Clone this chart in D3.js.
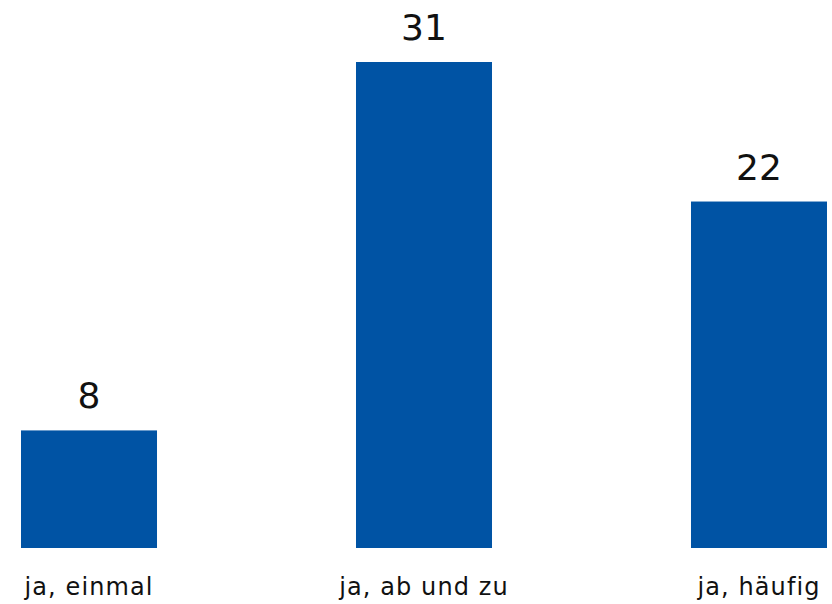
<!DOCTYPE html>
<html>
<head>
<meta charset="utf-8">
<script src="https://d3js.org/d3.v7.min.js"></script>
<style>
  body { margin: 0; background: #fff; }
  text { font-family: "DejaVu Sans", Verdana, sans-serif; }
</style>
</head>
<body>
<script>
// chart data
var categories = ["ja, einmal", "ja, ab und zu", "ja, häufig"];
var values = [7.5, 31, 22.1];

var width = 832, height = 604;

var svg = d3.select("body").append("svg")
  .attr("width", width)
  .attr("height", height);

var x = d3.scaleBand()
  .domain(categories)
  .range([21, 827])
  .paddingInner(0.594)
  .paddingOuter(0);

var y = d3.scaleLinear()
  .domain([0, 31])
  .range([548, 62]);

var rows = categories.map(function(c, i) { return { name: c, value: values[i] }; });

svg.selectAll("rect.bar")
  .data(rows)
  .enter().append("rect")
  .attr("class", "bar")
  .attr("x", function(d) { return x(d.name); })
  .attr("y", function(d) { return y(d.value); })
  .attr("width", x.bandwidth())
  .attr("height", function(d) { return y(0) - y(d.value); })
  .attr("fill", "#0053a4");

// value labels above the bars
svg.selectAll("text.val")
  .data(rows)
  .enter().append("text")
  .attr("class", "val")
  .attr("x", function(d) { return x(d.name) + x.bandwidth() / 2; })
  .attr("y", function(d) { return y(d.value) - 22; })
  .attr("text-anchor", "middle")
  .attr("font-size", 36)
  .attr("fill", "#111")
  .text(function(d) { return d3.format(".0f")(d.value); });

// category axis, no line or ticks
var xAxis = svg.append("g")
  .attr("transform", "translate(0,548)")
  .call(d3.axisBottom(x).tickSize(0).tickPadding(0));
xAxis.select(".domain").remove();
xAxis.selectAll("text")
  .attr("dy", null)
  .attr("y", 47)
  .attr("font-size", 24)
  .attr("letter-spacing", 1.1)
  .attr("font-family", "DejaVu Sans, Verdana, sans-serif")
  .attr("fill", "#111");
</script>
</body>
</html>
